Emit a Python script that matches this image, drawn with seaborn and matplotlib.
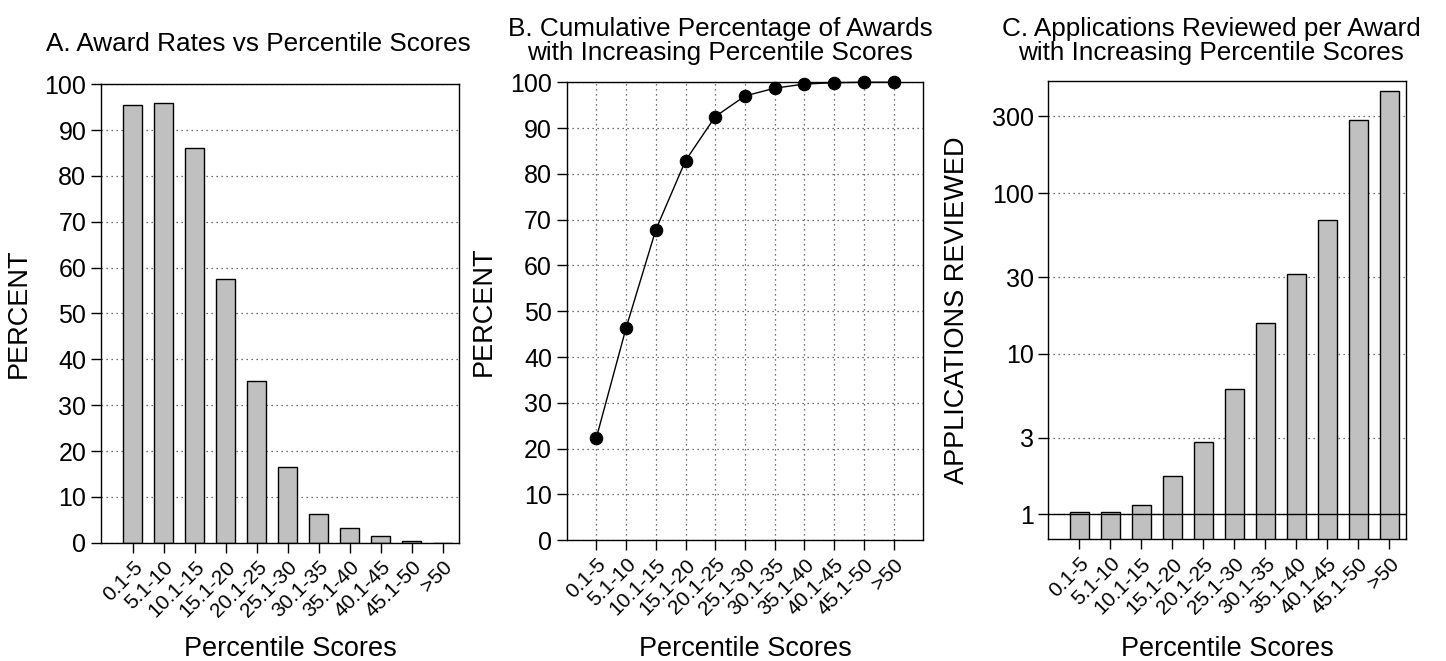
import matplotlib
matplotlib.use('Agg')
import matplotlib.pyplot as plt
import seaborn as sns
import pandas as pd

# %%
categories = ['0.1-5', '5.1-10', '10.1-15', '15.1-20', '20.1-25', '25.1-30',
              '30.1-35', '35.1-40', '40.1-45', '45.1-50', '>50']
award_rate = [95.4, 96.0, 86.1, 57.6, 35.2, 16.5, 6.3, 3.1, 1.5, 0.4, 0.0]
cumulative_pct = [22.4, 46.4, 67.8, 82.9, 92.5, 97.0, 98.7, 99.6, 99.9, 100.0, 100.0]
apps_per_award = [1.04, 1.03, 1.15, 1.73, 2.82, 6.05, 15.6, 31.4, 68, 286, 429]
log_ticks = [1, 3, 10, 30, 100, 300]

df = pd.DataFrame({'Score': categories, 'Rate': award_rate,
                   'Cumulative': cumulative_pct, 'Apps': apps_per_award})

# %%
sns.set_style('white')
plt.rcParams['font.family'] = ['Liberation Sans', 'DejaVu Sans']
plt.rcParams.update({'text.color': 'black', 'axes.labelcolor': 'black',
                     'xtick.color': 'black', 'ytick.color': 'black'})

grid_kw = dict(color='#444444', linestyle=(0, (1, 3)), linewidth=0.9)
bar_kw = dict(color='#c0c0c0', edgecolor='black', linewidth=1.0, width=0.61, saturation=1)
LABEL_SIZE = 19.5

fig = plt.figure(figsize=(14.46, 6.61), dpi=100)
ax_a = fig.add_axes([0.0698, 0.179, 0.2476, 0.6935])
ax_b = fig.add_axes([0.3919, 0.1826, 0.2466, 0.693])
ax_c = fig.add_axes([0.725, 0.184, 0.2472, 0.6933])


def style_axis(ax):
    for s in ax.spines.values():
        s.set_color('black')
        s.set_linewidth(1.0)
    ax.tick_params(axis='both', direction='out', length=7, width=1,
                   color='black', labelcolor='black', labelsize=18,
                   left=True, bottom=True)
    ax.tick_params(axis='x', labelsize=15)
    ax.set_xticks(range(len(categories)))
    ax.set_xticklabels(categories, rotation=45, ha='right', rotation_mode='anchor')
    ax.set_axisbelow(True)


# %% A. award rates
sns.barplot(data=df, x='Score', y='Rate', ax=ax_a, **bar_kw)
ax_a.set_ylim(0, 100)
ax_a.set_xlim(-1.03, 10.52)
ax_a.set_yticks(range(0, 101, 10))
ax_a.yaxis.grid(True, **grid_kw)
style_axis(ax_a)
ax_a.set_ylabel('PERCENT', fontsize=LABEL_SIZE)
ax_a.set_xlabel('Percentile Scores', fontsize=LABEL_SIZE)
ax_a.yaxis.set_label_coords(-0.193, 0.5)
ax_a.xaxis.set_label_coords(0.53, -0.203)

# %% B. cumulative
sns.lineplot(x=range(len(categories)), y=cumulative_pct, ax=ax_b, color='black',
             linewidth=1.0, marker='o', markersize=9, markeredgecolor='black',
             clip_on=False, zorder=4)
ax_b.set_ylim(0, 100)
ax_b.set_xlim(-1, 11)
ax_b.set_yticks(range(0, 101, 10))
ax_b.grid(True, **grid_kw)
style_axis(ax_b)
ax_b.set_ylabel('PERCENT', fontsize=LABEL_SIZE)
ax_b.set_xlabel('Percentile Scores', fontsize=LABEL_SIZE)
ax_b.yaxis.set_label_coords(-0.195, 0.5)
ax_b.xaxis.set_label_coords(0.5, -0.209)

# %% C. applications per award (log)
sns.barplot(data=df, x='Score', y='Apps', ax=ax_c, **bar_kw)
ax_c.set_yscale('log')
ax_c.set_ylim(0.7, 497)
ax_c.set_xlim(-1.0, 10.53)
ax_c.set_yticks(log_ticks)
ax_c.set_yticklabels([str(t) for t in log_ticks])
ax_c.minorticks_off()
ax_c.yaxis.grid(True, **grid_kw)
ax_c.axhline(1, color='black', linewidth=1.0, zorder=3)
style_axis(ax_c)
ax_c.set_ylabel('APPLICATIONS REVIEWED', fontsize=LABEL_SIZE)
ax_c.set_xlabel('Percentile Scores', fontsize=LABEL_SIZE)
ax_c.yaxis.set_label_coords(-0.219, 0.5)
ax_c.xaxis.set_label_coords(0.5, -0.211)

# %% titles
W, H = 1446, 661
title_kw = dict(ha='center', va='baseline', fontsize=18.8, color='black')
fig.text(258 / W, 1 - 51 / H, 'A. Award Rates vs Percentile Scores', **title_kw)
fig.text(720 / W, 1 - 36 / H, 'B. Cumulative Percentage of Awards', **title_kw)
fig.text(720 / W, 1 - 60 / H, 'with Increasing Percentile Scores', **title_kw)
fig.text(1211 / W, 1 - 36 / H, 'C. Applications Reviewed per Award', **title_kw)
fig.text(1211 / W, 1 - 60 / H, 'with Increasing Percentile Scores', **title_kw)

fig.savefig('out.png', dpi=100)
